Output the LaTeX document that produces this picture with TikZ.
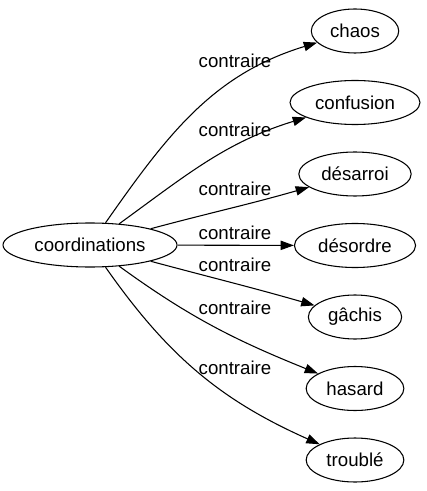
\documentclass[tikz,border=0pt]{standalone}
\usepackage{fontspec}
\setmainfont{Liberation Sans}
\usetikzlibrary{arrows.meta}
\usetikzlibrary{shapes.geometric}
\tikzstyle{word}=[draw,ellipse,line width=.8pt,inner sep=4.5pt,minimum height=33pt,font=\fontsize{14pt}{16pt}\selectfont]
\tikzstyle{lbl}=[inner sep=0pt,font=\fontsize{14pt}{16pt}\selectfont]
\tikzstyle{rel}=[line width=.8pt,-{Triangle[length=10pt,width=7pt]}]

\begin{document}
\begin{tikzpicture}[x=.75pt,y=-.75pt]
	\useasboundingbox (0,0) rectangle (426,491);
	\node[word] (coord) at (90,245) {coordinations};
	\node[word] (chaos)     at (355,31)    {chaos};
	\node[word] (confusion) at (355,102.5) {confusion};
	\node[word] (desarroi)  at (355,174)   {désarroi};
	\node[word] (desordre)  at (355,245.5) {désordre};
	\node[word] (gachis)    at (355,317)   {gâchis};
	\node[word] (hasard)    at (355,388.5) {hasard};
	\node[word] (trouble)   at (355,460)   {troublé};
	\node[lbl] (l1) at (235,61)  {contraire};
	\node[lbl] (l2) at (235,130) {contraire};
	\node[lbl] (l3) at (235,189) {contraire};
	\node[lbl] (l4) at (235,233) {contraire};
	\node[lbl] (l5) at (235,265) {contraire};
	\node[lbl] (l6) at (235,308) {contraire};
	\node[lbl] (l7) at (235,368) {contraire};
	\draw[rel] (coord) to[out=55,in=197]  (chaos);
	\draw[rel] (coord) to[out=36,in=197]  (confusion);
	\draw[rel] (coord) to[out=15,in=196]  (desarroi);
	\draw[rel] (coord) -- (desordre);
	\draw[rel] (coord) to[out=-15,in=164] (gachis);
	\draw[rel] (coord) to[out=-36,in=158] (hasard);
	\draw[rel] (coord) to[out=-55,in=156] (trouble);
\end{tikzpicture}
\end{document}
